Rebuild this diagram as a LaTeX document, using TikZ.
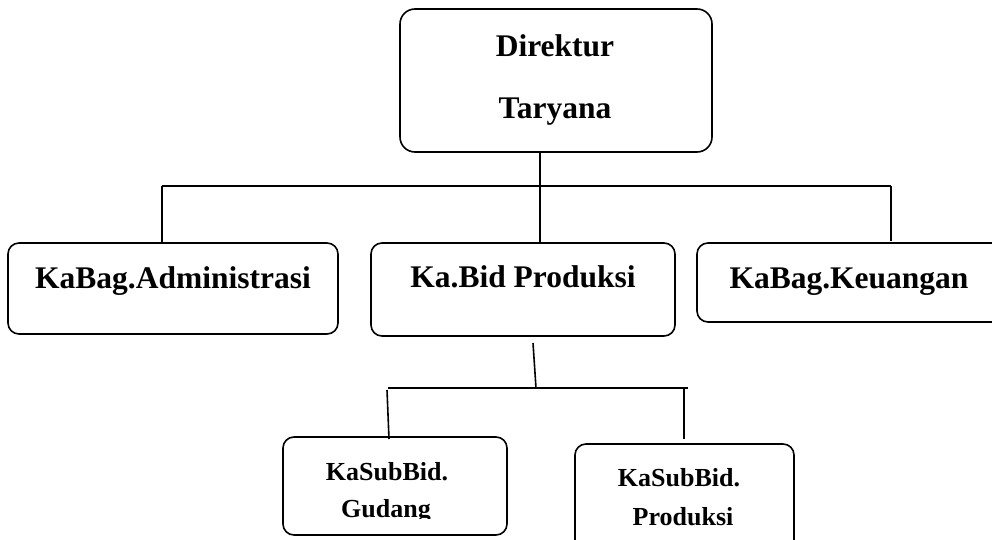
\documentclass[tikz,border=0pt]{standalone}
\usepackage{fontspec}
\setmainfont{Liberation Serif}
\begin{document}
\begin{tikzpicture}[x=1pt,y=-1pt,
  orgbox/.style={draw,line width=1.6pt,rounded corners=11pt,inner sep=0pt},
  bigtxt/.style={font=\fontsize{31.5}{36}\selectfont\bfseries,anchor=base,inner sep=0pt},
  smalltxt/.style={font=\fontsize{26}{30}\selectfont\bfseries,anchor=base,inner sep=0pt},
  conn/.style={line width=1.6pt}]
\useasboundingbox (0,0) rectangle (992,540);
\clip (0,0) rectangle (992,540);
% boxes
\node[orgbox,rounded corners=15pt,minimum width=312pt,minimum height=143pt] (dir) at (556,80.5) {};
\node[orgbox,minimum width=330pt,minimum height=91pt] (adm) at (173,288.5) {};
\node[orgbox,minimum width=304pt,minimum height=93pt] (bid) at (523,289.5) {};
\node[orgbox,minimum width=308pt,minimum height=79pt] (keu) at (851,282.5) {};
\node[orgbox,minimum width=224pt,minimum height=98pt] (gud) at (395,486) {};
\node[orgbox,minimum width=219pt,minimum height=120pt] (prd) at (684.5,504) {};
% texts
\node[bigtxt] (t1) at (555,57) {Direktur};
\node[bigtxt] (t2) at (555,119) {Taryana};
\node[bigtxt] (t3) at (173,288) {KaBag.Administrasi};
\node[bigtxt] (t4) at (523,287) {Ka.Bid Produksi};
\node[bigtxt] (t5) at (849,288) {KaBag.Keuangan};
\node[smalltxt] (t6) at (387,480) {KaSubBid.};
\begin{scope}
\clip (290,440) rectangle (500,518);
\node[smalltxt] (t7) at (386,517) {Gudang};
\end{scope}
\node[smalltxt] (t8) at (679,486) {KaSubBid.};
\node[smalltxt] (t9) at (683,525) {Produksi};
% junction coordinates
\coordinate (jtop) at (540,186);
\coordinate (jl) at (162,186);
\coordinate (jr) at (891,186);
\coordinate (ks) at (533,343);
\coordinate (jb) at (536,388);
\coordinate (jbl) at (388,388);
\coordinate (jbr) at (688,388);
\coordinate (jbrr) at (684,388);
\coordinate (gl) at (389,439);
\coordinate (pr) at (684,439);
\coordinate (kr) at (891,241);
% connectors
\draw[conn] (dir.south -| jtop) -- (jtop);
\draw[conn] (jl) -- (jr);
\draw[conn] (jl) -- (adm.north -| jl);
\draw[conn] (jtop) -- (bid.north -| jtop);
\draw[conn] (jr) -- (kr);
\draw[conn] (ks) -- (jb);
\draw[conn] (jbl) -- (jbr);
\draw[conn] (387,390) -- (gl);
\draw[conn] (jbrr) -- (pr);
\end{tikzpicture}
\end{document}
